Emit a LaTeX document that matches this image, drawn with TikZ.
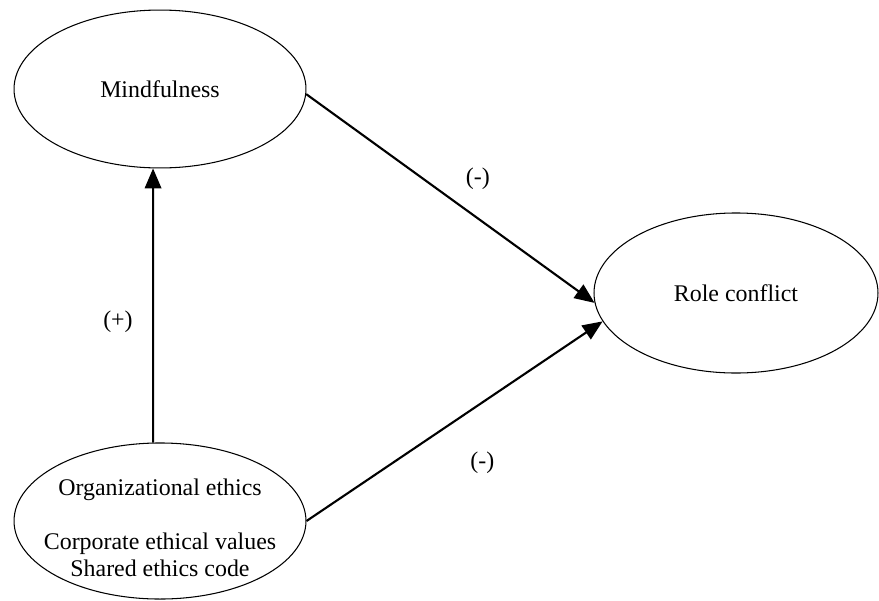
\documentclass[tikz,border=0pt]{standalone}
\usepackage{fontspec}
\setmainfont{Liberation Serif}
\usetikzlibrary{shapes.geometric,arrows.meta}
\tikzset{
  construct/.style={draw, ellipse, inner sep=0pt, line width=0.45pt},
  path arrow/.style={-{Triangle[length=8.5pt,width=7pt]}, line width=0.9pt},
}
\begin{document}
\begin{tikzpicture}[x=0.4268pt, y=0.4268pt, font=\fontsize{10.2}{11.5}\selectfont]
			\useasboundingbox (0,0) rectangle (879,600);
			\node[construct, minimum width=124.6pt, minimum height=67.4pt] (mind) at (160,511) {Mindfulness};
			\node[construct, minimum width=121.2pt, minimum height=68.3pt] (role) at (736,307) {Role conflict};
			\node[construct, minimum width=124.6pt, minimum height=66.6pt] (org) at (160,79) {};
			\node[align=center, inner sep=0pt] (orgtext) at (160,72.5) {Organizational ethics\\[11.5pt]Corporate ethical values\\Shared ethics code};
			
			\draw[path arrow] (org.95) -- node[pos=0.44, xshift=-15pt] {(+)} (mind.265);
			\draw[path arrow] (mind.-2) -- node[pos=0.595, yshift=17pt] {(-)} (role.184);
			\draw[path arrow] (org.east) -- node[pos=0.594, yshift=-25.6pt] {(-)} (role.192);
		\end{tikzpicture}
\end{document}
